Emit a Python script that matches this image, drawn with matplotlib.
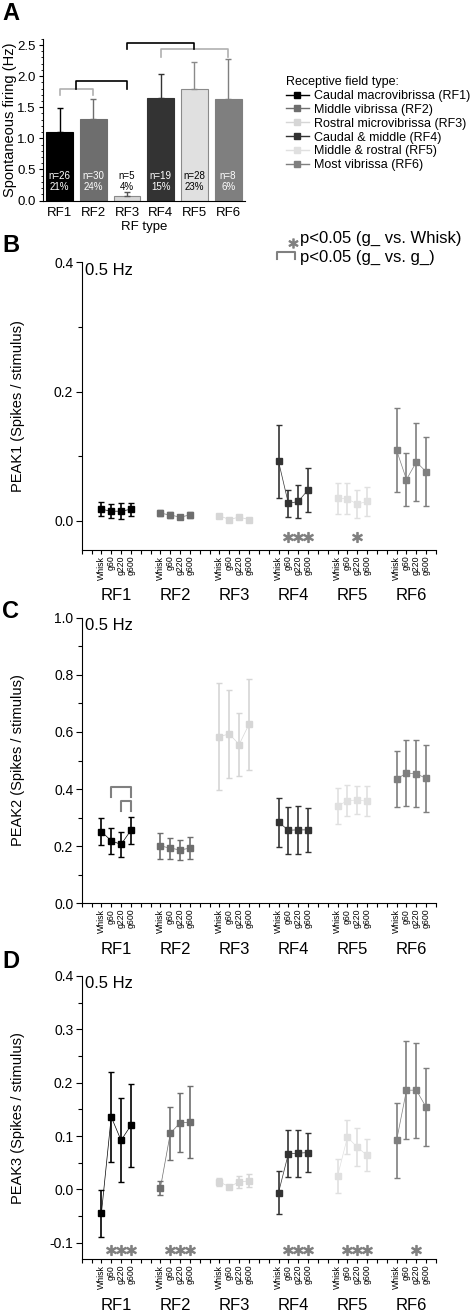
import numpy as np
import matplotlib.pyplot as plt
from matplotlib.lines import Line2D
from matplotlib.ticker import MultipleLocator, FormatStrFormatter, FixedLocator

plt.rcParams['font.family'] = ['Liberation Sans', 'DejaVu Sans']

# ---- data ----
rf_names = ["RF1", "RF2", "RF3", "RF4", "RF5", "RF6"]
rf_colors = ["#000000", "#6e6e6e", "#d6d6d6", "#333333", "#e0e0e0", "#7f7f7f"]
rf_legend = ["Caudal macrovibrissa (RF1)", "Middle vibrissa (RF2)",
             "Rostral microvibrissa (RF3)", "Caudal & middle (RF4)",
             "Middle & rostral (RF5)", "Most vibrissa (RF6)"]
conditions = ["Whisk", "g60", "g220", "g600"]

# panel A
spont_mean = [1.10, 1.31, 0.08, 1.65, 1.80, 1.64]
spont_err = [0.38, 0.32, 0.05, 0.39, 0.43, 0.63]
cell_n = [26, 30, 5, 19, 28, 8]
cell_pct = [21, 24, 4, 15, 23, 6]

# panel B  PEAK1
peak1_mean = [[0.018, 0.015, 0.015, 0.018],
              [0.012, 0.009, 0.006, 0.009],
              [0.008, 0.002, 0.006, 0.002],
              [0.092, 0.027, 0.030, 0.048],
              [0.035, 0.034, 0.026, 0.030],
              [0.109, 0.064, 0.091, 0.076]]
peak1_err = [[0.011, 0.011, 0.012, 0.010],
             [0.005, 0.004, 0.003, 0.004],
             [0.003, 0.002, 0.002, 0.002],
             [0.057, 0.021, 0.025, 0.034],
             [0.024, 0.024, 0.021, 0.023],
             [0.065, 0.041, 0.060, 0.053]]
peak1_stars = [(3, 1), (3, 2), (3, 3), (4, 2)]

# panel C  PEAK2
peak2_mean = [[0.251, 0.219, 0.206, 0.256],
              [0.201, 0.193, 0.187, 0.193],
              [0.584, 0.593, 0.556, 0.627],
              [0.284, 0.256, 0.257, 0.257],
              [0.341, 0.359, 0.362, 0.357],
              [0.435, 0.456, 0.454, 0.437]]
peak2_err = [[0.048, 0.046, 0.044, 0.047],
             [0.045, 0.037, 0.036, 0.038],
             [0.186, 0.155, 0.111, 0.159],
             [0.086, 0.082, 0.084, 0.077],
             [0.062, 0.054, 0.049, 0.053],
             [0.098, 0.116, 0.118, 0.118]]

# panel D  PEAK3
peak3_mean = [[-0.045, 0.136, 0.092, 0.120],
              [0.003, 0.105, 0.125, 0.126],
              [0.014, 0.005, 0.014, 0.016],
              [-0.006, 0.067, 0.068, 0.069],
              [0.025, 0.098, 0.079, 0.064],
              [0.092, 0.186, 0.186, 0.154]]
peak3_err = [[0.044, 0.084, 0.079, 0.078],
             [0.013, 0.049, 0.055, 0.067],
             [0.008, 0.003, 0.012, 0.012],
             [0.041, 0.044, 0.044, 0.036],
             [0.032, 0.032, 0.036, 0.030],
             [0.070, 0.092, 0.089, 0.073]]
peak3_stars = [(0, 1), (0, 2), (0, 3), (1, 1), (1, 2), (1, 3),
               (3, 1), (3, 2), (3, 3), (4, 1), (4, 2), (4, 3), (5, 2)]

W, H = 474, 1313
fig = plt.figure(figsize=(W / 100, H / 100), dpi=100)


def fx(px):
    return px / W


def fy(py):
    return 1 - py / H


def axes_px(left, top, right, bottom):
    return fig.add_axes([fx(left), fy(bottom), (right - left) / W, (bottom - top) / H])


STAR = "#808080"
STAR_MARK = r'$*$'

# ---- panel A ----
axA = axes_px(42.7, 38.8, 245, 200.5)
xa = np.arange(1, 7)
edges = ["#000000", "#6e6e6e", "#8a8a8a", "#333333", "#8a8a8a", "#7f7f7f"]
err_cols = ["#000000", "#6e6e6e", "#555555", "#333333", "#8a8a8a", "#7f7f7f"]
axA.bar(xa, spont_mean, width=0.8, color=rf_colors, edgecolor=edges, linewidth=0.8)
for i in range(6):
    axA.errorbar(xa[i], spont_mean[i], yerr=[[0], [spont_err[i]]], fmt='none',
                 ecolor=err_cols[i], elinewidth=1.0, capsize=2, capthick=1.0)
    txt_col = "black" if i in (2, 4) else "white"
    axA.text(xa[i], 0.39, "n=%d" % cell_n[i], ha='center', va='center', fontsize=7, color=txt_col)
    axA.text(xa[i], 0.21, "%d%%" % cell_pct[i], ha='center', va='center', fontsize=7, color=txt_col)

# significance brackets
axA.plot([1, 1, 2, 2], [1.69, 1.80, 1.80, 1.69], color="#b0b0b0", lw=1.2)
axA.plot([1.5, 1.5, 3, 3], [1.80, 1.92, 1.92, 1.80], color="black", lw=1.2)
axA.plot([4, 4, 6, 6], [2.31, 2.44, 2.44, 2.31], color="#b0b0b0", lw=1.2)
axA.plot([3, 3, 5, 5], [2.44, 2.54, 2.54, 2.44], color="black", lw=1.2)

axA.set_xlim(0.5, 6.5)
axA.set_ylim(0, 2.6)
axA.set_xticks(xa)
axA.set_xticklabels(rf_names, fontsize=9.5)
axA.yaxis.set_major_locator(MultipleLocator(0.5))
axA.yaxis.set_minor_locator(MultipleLocator(0.1))
axA.yaxis.set_major_formatter(FormatStrFormatter('%.1f'))
axA.tick_params(axis='y', labelsize=9.5, length=3, width=0.8, pad=2)
axA.tick_params(axis='y', which='minor', length=1.5, width=0.6)
axA.tick_params(axis='x', length=0, pad=5)
axA.set_xlabel("RF type", fontsize=9.5, labelpad=1)
axA.set_ylabel("Spontaneous firing (Hz)", fontsize=10.5)
axA.yaxis.set_label_coords(-0.128, 0.5)
for s in ["top", "right"]:
    axA.spines[s].set_visible(False)

handles = [Line2D([0], [0], color=c, marker='s', ms=4.5, lw=1.0) for c in rf_colors]
fig.legend(handles, rf_legend, loc='upper left', bbox_to_anchor=(fx(286), fy(76)),
           frameon=False, title="Receptive field type:", fontsize=9, title_fontsize=9,
           alignment='left', handlelength=1.8, handletextpad=0.4, labelspacing=0.15,
           borderaxespad=0, borderpad=0)


# ---- peak panels ----
def draw_peak(ax, means, errs, ylim, major, minor, ylabel, stars=None, star_y=0.0):
    for g in range(6):
        xs = [6 * g + i + 2 for i in range(4)]
        ax.plot(xs, means[g], color=rf_colors[g], lw=0.5, zorder=2)
        ax.errorbar(xs, means[g], yerr=errs[g], fmt='s', color=rf_colors[g], ms=4.5,
                    elinewidth=1.2, capsize=2.3, capthick=1.0, zorder=3)
        ax.annotate(rf_names[g], xy=(np.mean(xs), 0), xycoords=('data', 'axes fraction'),
                    xytext=(0, -33), textcoords='offset points', ha='center', va='center',
                    fontsize=12, annotation_clip=False)
    if stars:
        for g, i in stars:
            ax.plot(6 * g + i + 2, star_y, marker=STAR_MARK, ms=7, color=STAR,
                    linestyle='none', clip_on=False)
    pos = [6 * g + i + 2 for g in range(6) for i in range(4)]
    ax.set_xlim(0, 36)
    ax.set_ylim(*ylim)
    ax.xaxis.set_major_locator(FixedLocator(pos))
    ax.xaxis.set_minor_locator(FixedLocator([k for k in range(37) if k not in pos]))
    ax.set_xticklabels(conditions * 6, rotation=90, fontsize=6.3)
    ax.tick_params(axis='x', which='both', length=3, width=0.8, pad=1)
    ax.yaxis.set_major_locator(MultipleLocator(major))
    ax.yaxis.set_minor_locator(MultipleLocator(minor))
    ax.yaxis.set_major_formatter(FormatStrFormatter('%.1f'))
    ax.tick_params(axis='y', labelsize=10, length=4, width=0.8, pad=2)
    ax.tick_params(axis='y', which='minor', length=3, width=0.8)
    ax.set_ylabel(ylabel, fontsize=10.5)
    ax.yaxis.set_label_coords(-0.16, 0.5)
    ax.text(0.01, 1 - 8 / (ax.get_position().height * H), "0.5 Hz", transform=ax.transAxes,
            ha='left', va='center', fontsize=12)
    for s in ["top", "right"]:
        ax.spines[s].set_visible(False)


axB = axes_px(81.7, 262.2, 436, 550)
draw_peak(axB, peak1_mean, peak1_err, (-0.045, 0.4), 0.2, 0.1,
          "PEAK1 (Spikes / stimulus)", peak1_stars, -0.025)

axC = axes_px(81.7, 617.7, 436, 903.3)
draw_peak(axC, peak2_mean, peak2_err, (0.0, 1.0), 0.2, 0.1, "PEAK2 (Spikes / stimulus)")
# brackets between gratings in RF1
axC.plot([3, 3, 5, 5], [0.372, 0.407, 0.407, 0.372], color=STAR, lw=1.5)
axC.plot([4, 4, 5, 5], [0.323, 0.358, 0.358, 0.323], color=STAR, lw=1.5)

axD = axes_px(81.7, 976, 436, 1259.3)
draw_peak(axD, peak3_mean, peak3_err, (-0.131, 0.4), 0.1, 0.05,
          "PEAK3 (Spikes / stimulus)", peak3_stars, -0.114)

# significance key
fig.add_artist(Line2D([fx(293)], [fy(243)], marker=STAR_MARK, ms=6.5, color=STAR,
                      linestyle='none', transform=fig.transFigure))
fig.text(fx(300), fy(238), "p<0.05 (g_ vs. Whisk)", ha='left', va='center', fontsize=12)
fig.add_artist(Line2D([fx(277), fx(277), fx(295), fx(295)], [fy(259), fy(252), fy(252), fy(259)],
                      color=STAR, lw=1.5, transform=fig.transFigure))
fig.text(fx(300), fy(257), "p<0.05 (g_ vs. g_)", ha='left', va='center', fontsize=12)

# panel letters
for letter, py in [("A", 14), ("B", 245), ("C", 612), ("D", 961)]:
    fig.text(fx(2), fy(py), letter, ha='left', va='center', fontsize=17, fontweight='bold')

fig.savefig("out.png", dpi=100)
